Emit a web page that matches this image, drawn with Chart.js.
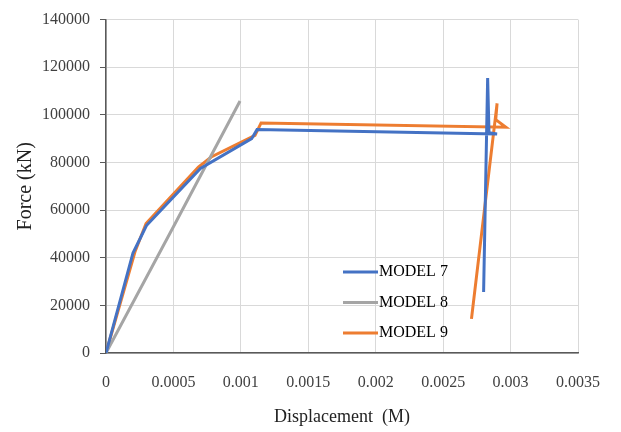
<!DOCTYPE html>
<html>
<head>
<meta charset="utf-8">
<script src="https://cdn.jsdelivr.net/npm/chart.js@4/dist/chart.umd.min.js"></script>
<style>
  html, body { margin: 0; padding: 0; background: #fff; }
  #wrap { width: 621px; height: 432px; }
</style>
</head>
<body>
<div id="wrap"><canvas id="chart" width="621" height="432"></canvas></div>
<script>
  const xTicks = [0, 0.0005, 0.001, 0.0015, 0.002, 0.0025, 0.003, 0.0035];
  const yTicks = [0, 20000, 40000, 60000, 80000, 100000, 120000, 140000];

  const model7X = [0, 0.0002, 0.0003, 0.0007, 0.00108, 0.00112, 0.0029, 0.00284, 0.00283, 0.0028];
  const model7Y = [0, 42000, 53500, 77500, 90000, 93800, 92000, 92500, 115500, 25600];

  const model8X = [0, 0.0005, 0.000994];
  const model8Y = [0, 53000, 105800];

  const model9X = [0, 0.000215, 0.000297, 0.000685, 0.00078, 0.001105, 0.00115, 0.002965, 0.00289, 0.0029, 0.00271];
  const model9Y = [0, 42500, 54400, 78100, 82300, 91400, 96600, 94800, 98000, 104800, 14300];

  const labels = ["MODEL 7", "MODEL 8", "MODEL 9"];
  const colors = ["#4472C4", "#A5A5A5", "#ED7D31"];

  function toPoints(xs, ys) {
    return xs.map((x, i) => ({x: x, y: ys[i]}));
  }

  const serif = "'Liberation Serif', 'Times New Roman', serif";

  // legend drawn inside the plot area, Excel style
  const innerLegend = {
    id: "innerLegend",
    afterDatasetsDraw(chart) {
      const ctx = chart.ctx;
      ctx.save();
      ctx.font = "16px " + serif;
      ctx.textBaseline = "middle";
      labels.forEach((label, i) => {
        const y = 272 + i * 30.5;
        ctx.strokeStyle = colors[i];
        ctx.lineWidth = 3;
        ctx.beginPath();
        ctx.moveTo(343, y);
        ctx.lineTo(378, y);
        ctx.stroke();
        ctx.fillStyle = "#000";
        ctx.fillText(label, 379, y);
      });
      ctx.restore();
    },
  };

  new Chart(document.getElementById("chart"), {
    type: "scatter",
    data: {
      datasets: [
        {label: labels[0], data: toPoints(model7X, model7Y), borderColor: colors[0]},
        {label: labels[1], data: toPoints(model8X, model8Y), borderColor: colors[1]},
        {label: labels[2], data: toPoints(model9X, model9Y), borderColor: colors[2]},
      ].map((d) => Object.assign(d, {
        showLine: true,
        borderWidth: 3,
        pointRadius: 0,
        tension: 0,
        backgroundColor: d.borderColor,
      })),
    },
    options: {
      responsive: false,
      animation: false,
      layout: {padding: {top: 19, right: 43, left: 0, bottom: 0}},
      plugins: {legend: {display: false}, tooltip: {enabled: false}},
      scales: {
        x: {
          type: "linear",
          min: 0,
          max: 0.0035,
          afterBuildTicks: (axis) => { axis.ticks = xTicks.map((v) => ({value: v})); },
          afterFit: (axis) => { axis.height = 79; },
          ticks: {
            color: "#404040",
            font: {family: serif, size: 16},
            padding: 20,
            maxRotation: 0,
            callback: (v) => String(v),
          },
          grid: {color: "#d9d9d9", drawTicks: false},
          border: {color: "#595959", width: 1.5},
          title: {
            display: true,
            text: "Displacement  (M)",
            color: "#222",
            font: {family: serif, size: 18},
            padding: {top: 11},
          },
        },
        y: {
          min: 0,
          max: 140000,
          afterBuildTicks: (axis) => { axis.ticks = yTicks.map((v) => ({value: v})); },
          afterFit: (axis) => { axis.width = 106; },
          ticks: {
            color: "#404040",
            font: {family: serif, size: 16},
            padding: 10,
            callback: (v) => String(v),
          },
          grid: {color: "#d9d9d9", tickLength: 6, tickColor: "#595959"},
          border: {color: "#595959", width: 1.5},
          title: {
            display: true,
            text: "Force (kN)",
            color: "#222",
            font: {family: serif, size: 20},
            padding: {top: 14, bottom: 0},
          },
        },
      },
    },
    plugins: [innerLegend],
  });
</script>
</body>
</html>
